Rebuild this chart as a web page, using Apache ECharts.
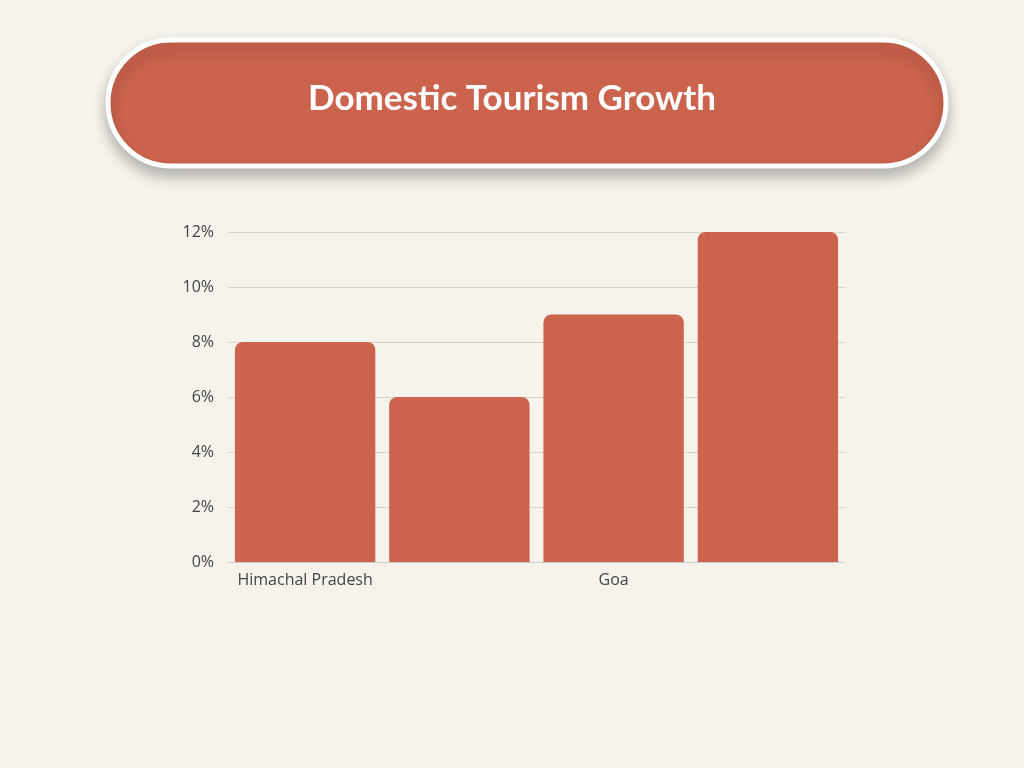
<!DOCTYPE html>
<html>
<head>
<meta charset="utf-8">
<script src="https://cdn.jsdelivr.net/npm/echarts@6/dist/echarts.min.js"></script>
<style>
  html, body { margin: 0; padding: 0; background: #f6f3ec; }
  #chart { width: 1024px; height: 768px; }
</style>
</head>
<body>
<div id="chart"></div>
<script>
var categories = ["Himachal Pradesh", "Uttrakhand", "Goa", "Northeastern Region"];
var growth = [8, 6, 9, 12];
var titleText = "Domestic Tourism Growth";

var myChart = echarts.init(document.getElementById("chart"));

var option = {
  backgroundColor: "#f6f3ec",
  title: {
    text: titleText,
    left: "center",
    top: 76,
    textStyle: {
      color: "#ffffff",
      fontSize: 35,
      fontWeight: "bold",
      fontFamily: "Lato"
    }
  },
  graphic: [
    {
      type: "rect",
      z: -1,
      shape: { x: 108, y: 40, width: 838, height: 126, r: 63 },
      style: {
        fill: "#cc634d",
        stroke: "#ffffff",
        lineWidth: 5,
        shadowBlur: 14,
        shadowOffsetY: 8,
        shadowColor: "rgba(0,0,0,0.25)"
      }
    }
  ],
  grid: {
    left: 228,
    right: 179,
    top: 232,
    bottom: 206
  },
  xAxis: {
    type: "category",
    data: categories,
    axisTick: { show: false },
    axisLine: { lineStyle: { color: "#cccccc" } },
    axisLabel: {
      color: "#444444",
      fontSize: 16,
      fontFamily: "Open Sans",
      margin: 10
    }
  },
  yAxis: {
    type: "value",
    min: 0,
    max: 12,
    interval: 2,
    axisLine: { show: false },
    axisTick: { show: false },
    axisLabel: {
      formatter: "{value}%",
      color: "#444444",
      fontSize: 16,
      fontFamily: "Open Sans",
      margin: 14
    },
    splitLine: { lineStyle: { color: "#d6d2cb", width: 1 } }
  },
  series: [
    {
      type: "bar",
      data: growth,
      barCategoryGap: "9%",
      itemStyle: {
        color: "#cc634d",
        borderRadius: [8, 8, 0, 0]
      }
    }
  ]
};

myChart.setOption(option);
</script>
</body>
</html>
